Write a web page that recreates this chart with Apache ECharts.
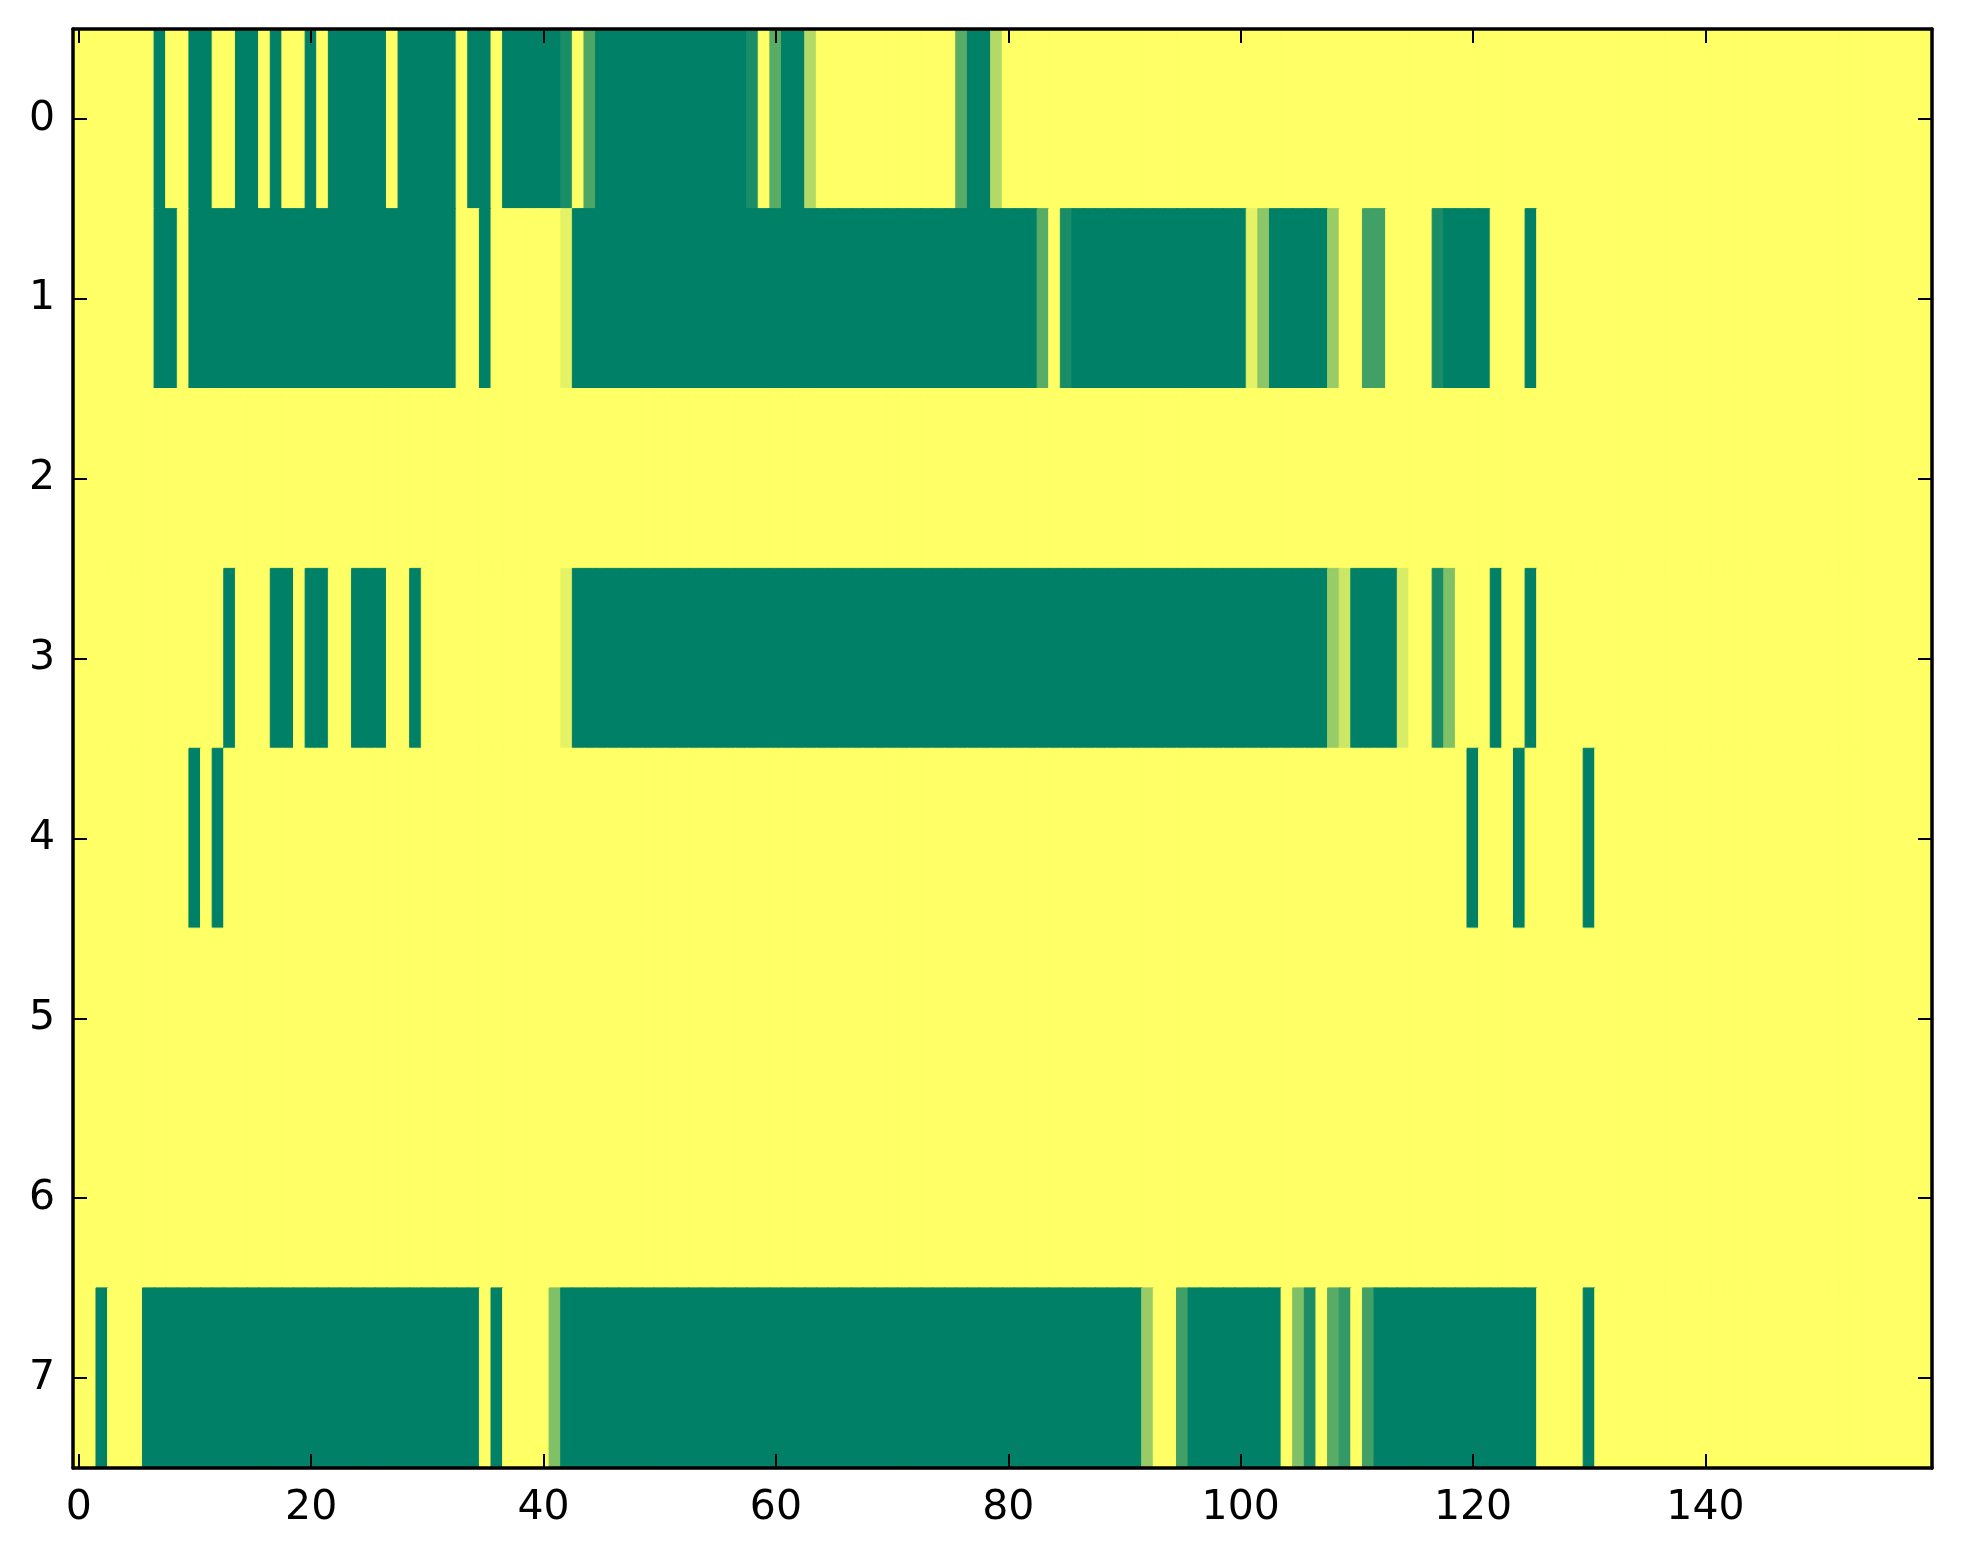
<!DOCTYPE html>
<html>
<head>
<meta charset="utf-8">
<script src="https://cdn.jsdelivr.net/npm/echarts@6/dist/echarts.min.js"></script>
<style>
html,body{margin:0;padding:0;background:#fff;}
#chart{width:1963px;height:1564px;}
</style>
</head>
<body>
<div id="chart"></div>
<script>
var rowLabels = ['0','1','2','3','4','5','6','7'];
var xTickLabels = ['0','20','40','60','80','100','120','140'];

var row0 = [
0,0,0,0,0,0,0,1,0,0, 1,1,0,0,1,1,0,1,0,0,
1,0,1,1,1,1,1,0,1,1, 1,1,1,0,1,1,0,1,1,1,
1,1,0.9,0,0.7,1,1,1,1,1, 1,1,1,1,1,1,1,1,0.9,0,
0.65,1,1,0.3,0,0,0,0,0,0, 0,0,0,0,0,0,0.65,1,1,0.3,
0,0,0,0,0,0,0,0,0,0, 0,0,0,0,0,0,0,0,0,0,
0,0,0,0,0,0,0,0,0,0, 0,0,0,0,0,0,0,0,0,0,
0,0,0,0,0,0,0,0,0,0, 0,0,0,0,0,0,0,0,0,0,
0,0,0,0,0,0,0,0,0,0, 0,0,0,0,0,0,0,0,0,0
];
var row1 = [
0,0,0,0,0,0,0,1,1,0, 1,1,1,1,1,1,1,1,1,1,
1,1,1,1,1,1,1,1,1,1, 1,1,1,0,0,1,0,0,0,0,
0,0,0.1,1,1,1,1,1,1,1, 1,1,1,1,1,1,1,1,1,1,
1,1,1,1,1,1,1,1,1,1, 1,1,1,1,1,1,1,1,1,1,
1,1,1,0.65,0,0.9,1,1,1,1, 1,1,1,1,1,1,1,1,1,1,
1,0.1,0.45,1,1,1,1,1,0.4,0, 0,0.75,0.75,0,0,0,0,0.9,1,1,
1,1,0,0,0,1,0,0,0,0, 0,0,0,0,0,0,0,0,0,0,
0,0,0,0,0,0,0,0,0,0, 0,0,0,0,0,0,0,0,0,0
];
var row2 = [
0,0,0,0,0,0,0,0,0,0, 0,0,0,0,0,0,0,0,0,0,
0,0,0,0,0,0,0,0,0,0, 0,0,0,0,0,0,0,0,0,0,
0,0,0,0,0,0,0,0,0,0, 0,0,0,0,0,0,0,0,0,0,
0,0,0,0,0,0,0,0,0,0, 0,0,0,0,0,0,0,0,0,0,
0,0,0,0,0,0,0,0,0,0, 0,0,0,0,0,0,0,0,0,0,
0,0,0,0,0,0,0,0,0,0, 0,0,0,0,0,0,0,0,0,0,
0,0,0,0,0,0,0,0,0,0, 0,0,0,0,0,0,0,0,0,0,
0,0,0,0,0,0,0,0,0,0, 0,0,0,0,0,0,0,0,0,0
];
var row3 = [
0,0,0,0,0,0,0,0,0,0, 0,0,0,1,0,0,0,1,1,0,
1,1,0,0,1,1,1,0,0,1, 0,0,0,0,0,0,0,0,0,0,
0,0,0.1,1,1,1,1,1,1,1, 1,1,1,1,1,1,1,1,1,1,
1,1,1,1,1,1,1,1,1,1, 1,1,1,1,1,1,1,1,1,1,
1,1,1,1,1,1,1,1,1,1, 1,1,1,1,1,1,1,1,1,1,
1,1,1,1,1,1,1,1,0.4,0.2, 1,1,1,1,0.15,0,0,0.9,0.5,0,
0,0,1,0,0,1,0,0,0,0, 0,0,0,0,0,0,0,0,0,0,
0,0,0,0,0,0,0,0,0,0, 0,0,0,0,0,0,0,0,0,0
];
var row4 = [
0,0,0,0,0,0,0,0,0,0, 1,0,1,0,0,0,0,0,0,0,
0,0,0,0,0,0,0,0,0,0, 0,0,0,0,0,0,0,0,0,0,
0,0,0,0,0,0,0,0,0,0, 0,0,0,0,0,0,0,0,0,0,
0,0,0,0,0,0,0,0,0,0, 0,0,0,0,0,0,0,0,0,0,
0,0,0,0,0,0,0,0,0,0, 0,0,0,0,0,0,0,0,0,0,
0,0,0,0,0,0,0,0,0,0, 0,0,0,0,0,0,0,0,0,0,
1,0,0,0,1,0,0,0,0,0, 1,0,0,0,0,0,0,0,0,0,
0,0,0,0,0,0,0,0,0,0, 0,0,0,0,0,0,0,0,0,0
];
var row5 = [
0,0,0,0,0,0,0,0,0,0, 0,0,0,0,0,0,0,0,0,0,
0,0,0,0,0,0,0,0,0,0, 0,0,0,0,0,0,0,0,0,0,
0,0,0,0,0,0,0,0,0,0, 0,0,0,0,0,0,0,0,0,0,
0,0,0,0,0,0,0,0,0,0, 0,0,0,0,0,0,0,0,0,0,
0,0,0,0,0,0,0,0,0,0, 0,0,0,0,0,0,0,0,0,0,
0,0,0,0,0,0,0,0,0,0, 0,0,0,0,0,0,0,0,0,0,
0,0,0,0,0,0,0,0,0,0, 0,0,0,0,0,0,0,0,0,0,
0,0,0,0,0,0,0,0,0,0, 0,0,0,0,0,0,0,0,0,0
];
var row6 = [
0,0,0,0,0,0,0,0,0,0, 0,0,0,0,0,0,0,0,0,0,
0,0,0,0,0,0,0,0,0,0, 0,0,0,0,0,0,0,0,0,0,
0,0,0,0,0,0,0,0,0,0, 0,0,0,0,0,0,0,0,0,0,
0,0,0,0,0,0,0,0,0,0, 0,0,0,0,0,0,0,0,0,0,
0,0,0,0,0,0,0,0,0,0, 0,0,0,0,0,0,0,0,0,0,
0,0,0,0,0,0,0,0,0,0, 0,0,0,0,0,0,0,0,0,0,
0,0,0,0,0,0,0,0,0,0, 0,0,0,0,0,0,0,0,0,0,
0,0,0,0,0,0,0,0,0,0, 0,0,0,0,0,0,0,0,0,0
];
var row7 = [
0,0,1,0,0,0,1,1,1,1, 1,1,1,1,1,1,1,1,1,1,
1,1,1,1,1,1,1,1,1,1, 1,1,1,1,1,0,1,0,0,0,
0,0.5,1,1,1,1,1,1,1,1, 1,1,1,1,1,1,1,1,1,1,
1,1,1,1,1,1,1,1,1,1, 1,1,1,1,1,1,1,1,1,1,
1,1,1,1,1,1,1,1,1,1, 1,1,0.4,0,0,0.75,1,1,1,1,
1,1,1,1,0,0.5,0.9,0,0.65,0.8, 0,0.75,1,1,1,1,1,1,1,1,
1,1,1,1,1,1,0,0,0,0, 1,0,0,0,0,0,0,0,0,0,
0,0,0,0,0,0,0,0,0,0, 0,0,0,0,0,0,0,0,0,0
];

var colorStops = ['#ffff66', '#008066'];
var rows = [row0,row1,row2,row3,row4,row5,row6,row7];
var xCats = [];
for (var i = 0; i < row0.length; i++) xCats.push(String(i));
var cells = [];
rows.forEach(function (r, y) {
  r.forEach(function (v, x) {
    // border in the cell's own colour hides anti-aliasing seams between cells
    cells.push({value: [x, y, v], itemStyle: {borderWidth: 1, borderColor: echarts.color.lerp(v, colorStops)}});
  });
});

function isLabeled(idx) { return xTickLabels.indexOf(String(idx)) >= 0; }

var FONT = 'DejaVu Sans';
var chart = echarts.init(document.getElementById('chart'), null, {renderer: 'canvas'});
var lineStyle = {color: '#000', width: 3.5};
var tickStyle = {color: '#000', width: 2};
chart.setOption({
  backgroundColor: '#ffffff',
  animation: false,
  grid: {left: 73, right: 31, top: 29, bottom: 96, containLabel: false},
  xAxis: [
    {
      type: 'category', data: xCats, position: 'bottom', z: 10,
      axisLine: {show: true, lineStyle: lineStyle},
      axisTick: {show: true, inside: true, length: 14, alignWithLabel: true, lineStyle: tickStyle,
                 interval: function (idx) { return isLabeled(idx); }},
      axisLabel: {show: true, margin: 20, fontFamily: FONT, fontSize: 41, color: '#000',
                  interval: function (idx) { return isLabeled(idx); }},
      splitLine: {show: false}
    },
    {
      type: 'category', data: xCats, position: 'top', z: 10,
      axisLine: {show: true, lineStyle: lineStyle},
      axisTick: {show: true, inside: true, length: 14, alignWithLabel: true, lineStyle: tickStyle,
                 interval: function (idx) { return isLabeled(idx); }},
      axisLabel: {show: false},
      splitLine: {show: false}
    }
  ],
  yAxis: [
    {
      type: 'category', data: rowLabels, inverse: true, position: 'left', z: 10,
      axisLine: {show: true, lineStyle: lineStyle},
      axisTick: {show: true, inside: true, length: 14, alignWithLabel: true, lineStyle: tickStyle, interval: 0},
      axisLabel: {show: true, margin: 18, fontFamily: FONT, fontSize: 41, color: '#000', interval: 0},
      splitLine: {show: false}
    },
    {
      type: 'category', data: rowLabels, inverse: true, position: 'right', z: 10,
      axisLine: {show: true, lineStyle: lineStyle},
      axisTick: {show: true, inside: true, length: 14, alignWithLabel: true, lineStyle: tickStyle, interval: 0},
      axisLabel: {show: false},
      splitLine: {show: false}
    }
  ],
  visualMap: {
    type: 'continuous', min: 0, max: 1, show: false, dimension: 2,
    inRange: {color: colorStops}
  },
  series: [{
    type: 'heatmap', xAxisIndex: 0, yAxisIndex: 0, z: 2,
    data: cells,
    emphasis: {disabled: true},
    progressive: 0
  }]
});
</script>
</body>
</html>
